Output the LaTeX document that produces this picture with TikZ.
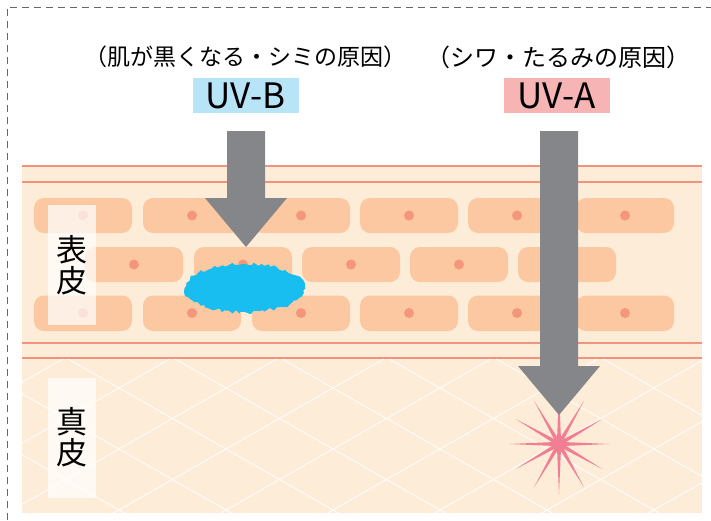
\documentclass[tikz,border=0pt]{standalone}
\usepackage{fontspec}
\setmainfont{Noto Sans CJK JP}
\usetikzlibrary{decorations.pathmorphing}
\definecolor{hautfarbe}{RGB}{253,236,215}
\definecolor{zellfarbe}{RGB}{252,200,162}
\definecolor{kernfarbe}{RGB}{244,150,122}
\definecolor{linienfarbe}{RGB}{242,148,125}
\definecolor{pfeilfarbe}{RGB}{133,134,137}
\definecolor{uvbfarbe}{RGB}{184,228,248}
\definecolor{uvafarbe}{RGB}{246,180,180}
\definecolor{fleckfarbe}{RGB}{24,190,239}
\definecolor{sternfarbe}{RGB}{241,127,148}

\begin{document}
\begin{tikzpicture}[x=1pt, y=-1pt,
				zelle/.style={fill=zellfarbe, rounded corners=10pt},
				kern/.style={fill=kernfarbe},
				schicht/.style={draw=linienfarbe, line width=2.6pt},
				gitter/.style={draw=white, line width=0.8pt},
				etikett/.style={fill=white, fill opacity=0.72, text opacity=1, minimum width=48pt, minimum height=120pt, inner sep=0pt, align=center, font=\fontsize{31}{31}\selectfont},
				uvtitel/.style={minimum width=106pt, minimum height=35pt, inner sep=0pt, font=\fontsize{35}{35}\selectfont},
				ursache/.style={inner sep=0pt, font=\fontsize{23}{23}\selectfont},
				pfeil/.style={fill=pfeilfarbe},
				strahl/.style={fill=sternfarbe}]
				\useasboundingbox (0,0) rectangle (711,520);
				% Rahmen gestrichelt
				\draw[gray!80!black, line width=0.9pt, dash pattern=on 7pt off 5pt] (7,520) -- (7,7) -- (711,7);
				% Haut
				\fill[hautfarbe] (22,166) rectangle (702,513);
				% Zellen der Oberhaut
				\foreach \x in {83,192,301,409,517,625} {
					\fill[zelle] (\x-49,198) rectangle (\x+49,233);
					\fill[kern] (\x,215.5) circle (5pt);
					\fill[zelle] (\x-49,295.5) rectangle (\x+49,331);
					\fill[kern] (\x,313) circle (5pt);
				}
				\foreach \x in {134,243,351,459,567} {
					\fill[zelle] (\x-49,247) rectangle (\x+49,282);
					\fill[kern] (\x,264.5) circle (5pt);
				}
				% Gitter der Lederhaut
				\begin{scope}
					\clip (22,359.5) rectangle (702,513);
					\foreach \k in {-5,...,9} {
						\draw[gitter] (119+107*\k-66.6,350) -- (119+107*\k+231.5,520);
						\draw[gitter] (119+107*\k+66.6,350) -- (119+107*\k-231.5,520);
					}
				\end{scope}
				% Grenzlinien
				\foreach \y in {166,182,343,358} \draw[schicht] (22,\y) -- (702,\y);
				% Beschriftung der Schichten
				\node[etikett] (oberhaut) at (72,265) {表\\皮};
				\node[etikett] (lederhaut) at (72,437.5) {真\\皮};
				% Fleck
				\pgfmathsetseed{11}
				\coordinate (fleck) at (245,288);
				\fill[fleckfarbe, decorate, decoration={random steps, segment length=3pt, amplitude=2pt}] (fleck) ellipse (60pt and 24pt);
				% Stern
				\coordinate (stern) at (559,444);
				\begin{scope}[shift={(stern)}]
					\foreach \a in {0,30,...,330} \fill[strahl] (\a+90:2.2pt) -- (\a:50pt) -- (\a-90:2.2pt) -- cycle;
					\fill[strahl] (0,0) circle (7pt);
				\end{scope}
				% Pfeile
				\coordinate (spitzeB) at (246,247);
				\coordinate (spitzeA) at (559,415);
				\fill[pfeil] (227,131) -- (265,131) -- (265,198) -- (287,198) -- (spitzeB) -- (205,198) -- (227,198) -- cycle;
				\fill[pfeil] (540,131) -- (578,131) -- (578,366) -- (600,366) -- (spitzeA) -- (518,366) -- (540,366) -- cycle;
				% Texte oben
				\node[ursache] (ursacheB) at (245,57) {（肌が黒くなる・シミの原因）};
				\node[uvtitel, fill=uvbfarbe] (uvb) at (245.5,95.5) {UV-B};
				\node[ursache, font=\fontsize{24}{24}\selectfont] (ursacheA) at (558,57) {（シワ・たるみの原因）};
				\node[uvtitel, fill=uvafarbe] (uva) at (556.5,95.5) {UV-A};
			\end{tikzpicture}
\end{document}
